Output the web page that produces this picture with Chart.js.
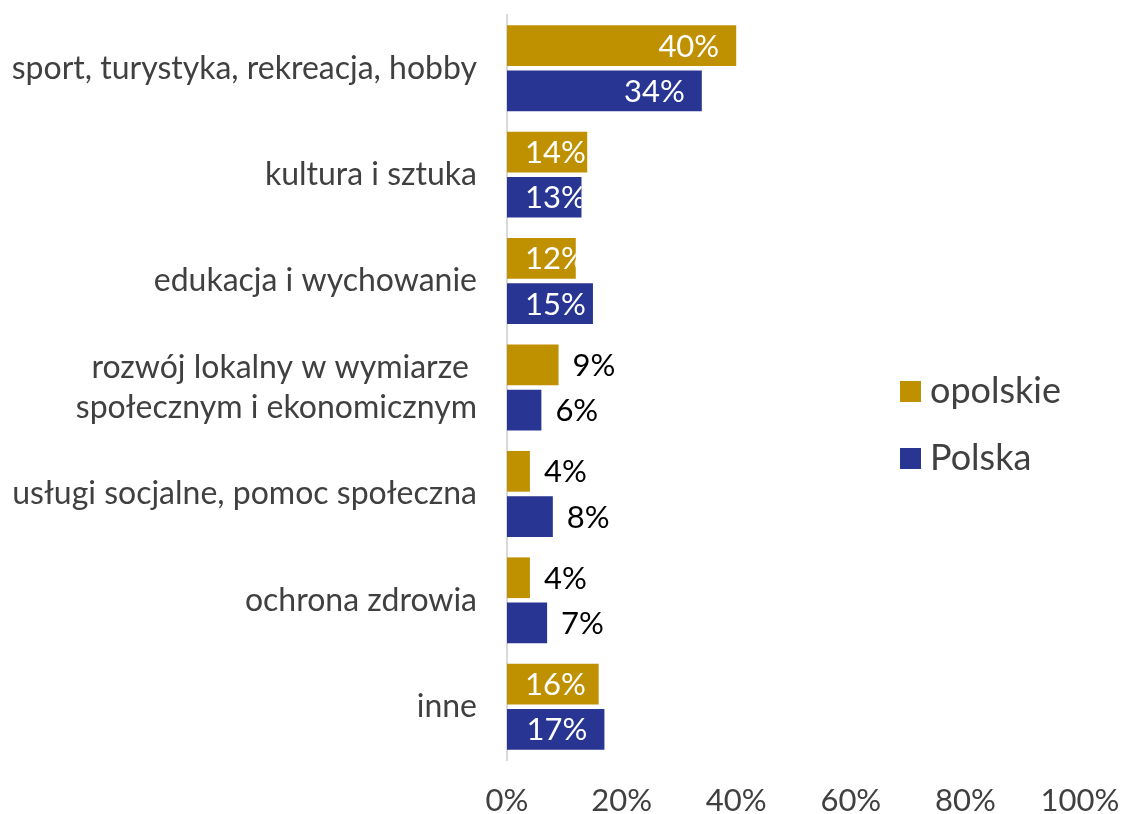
<!DOCTYPE html>
<html>
<head>
<meta charset="utf-8">
<script src="https://cdn.jsdelivr.net/npm/chart.js@4/dist/chart.umd.min.js"></script>
<style>
html,body{margin:0;padding:0;background:#fff;}
#wrap{position:relative;width:1122px;height:814px;}
</style>
</head>
<body>
<div id="wrap"><canvas id="c" width="1122" height="814"></canvas></div>
<script>
const categories = [
  'sport, turystyka, rekreacja, hobby',
  'kultura i sztuka',
  'edukacja i wychowanie',
  ['rozwój lokalny w wymiarze ', 'społecznym i ekonomicznym'],
  'usługi socjalne, pomoc społeczna',
  'ochrona zdrowia',
  'inne'
];
const opolskie = [40, 14, 12, 9, 4, 4, 16];
const polska = [34, 13, 15, 6, 8, 7, 17];
const seriesNames = ['opolskie', 'Polska'];
const xMin = 0, xMax = 100, xStep = 20;

const GOLD = '#BF9000';
const BLUE = '#283593';
const FONT = 'Lato, "Open Sans", sans-serif';

const labelPlugin = {
  id: 'barLabels',
  afterDatasetsDraw(chart) {
    const ctx = chart.ctx;
    ctx.save();
    ctx.font = '31px ' + FONT;
    ctx.textBaseline = 'middle';
    chart.data.datasets.forEach((ds, di) => {
      const meta = chart.getDatasetMeta(di);
      meta.data.forEach((bar, i) => {
        const v = ds.data[i];
        const txt = v + '%';
        const w = ctx.measureText(txt).width;
        const y = bar.y + 1;
        if (v >= 10) {
          let right = Math.max(bar.x - 17, bar.base + 18 + w);
          ctx.save();
          ctx.beginPath();
          ctx.rect(bar.base, bar.y - bar.height / 2, bar.x - bar.base, bar.height);
          ctx.clip();
          ctx.fillStyle = '#FFFFFF';
          ctx.textAlign = 'right';
          ctx.fillText(txt, right, y);
          ctx.restore();
        } else {
          ctx.fillStyle = '#000000';
          ctx.textAlign = 'left';
          ctx.fillText(txt, bar.x + 14, y);
        }
      });
    });
    ctx.restore();
  }
};

const legendPlugin = {
  id: 'customLegend',
  afterDraw(chart) {
    const ctx = chart.ctx;
    ctx.save();
    const items = [[seriesNames[0], GOLD, 381], [seriesNames[1], BLUE, 448]];
    ctx.font = '36px ' + FONT;
    ctx.textBaseline = 'middle';
    ctx.textAlign = 'left';
    items.forEach(([name, col, top]) => {
      ctx.fillStyle = col;
      ctx.fillRect(900, top, 21, 21);
      ctx.fillStyle = '#404040';
      ctx.fillText(name, 930, top + 10);
    });
    ctx.restore();
  }
};

function zeroPadV(s) {
  s.paddingTop = 0; s.paddingBottom = 0;
  if (s._margins) { s._margins.top = 0; s._margins.bottom = 0; }
}
function zeroPadH(s) {
  s.paddingLeft = 0; s.paddingRight = 0;
  if (s._margins) { s._margins.left = 0; s._margins.right = 0; }
}

new Chart(document.getElementById('c'), {
  type: 'bar',
  data: {
    labels: categories,
    datasets: [
      { label: seriesNames[0], data: opolskie, backgroundColor: GOLD, borderWidth: 0,
        categoryPercentage: 0.85, barPercentage: 0.9 },
      { label: seriesNames[1], data: polska, backgroundColor: BLUE, borderWidth: 0,
        categoryPercentage: 0.85, barPercentage: 0.9 }
    ]
  },
  options: {
    indexAxis: 'y',
    responsive: false,
    animation: false,
    layout: { padding: { top: 15, right: 42, bottom: 0, left: 0 } },
    plugins: { legend: { display: false }, tooltip: { enabled: false } },
    scales: {
      x: {
        min: xMin, max: xMax,
        ticks: { stepSize: xStep, color: '#404040', font: { family: FONT, size: 31 },
                 padding: 22, callback: v => v + '%' },
        grid: { display: false, drawTicks: false },
        border: { display: false },
        afterFit: s => { s.height = 54; zeroPadH(s); }
      },
      y: {
        ticks: { color: '#404040', font: { family: FONT, size: 32, lineHeight: 1.25 }, padding: 30 },
        grid: { display: false, drawTicks: false },
        border: { display: true, color: '#D9D9D9', width: 2 },
        afterFit: s => { s.width = 507; zeroPadV(s); }
      }
    }
  },
  plugins: [labelPlugin, legendPlugin]
});
</script>
</body>
</html>
